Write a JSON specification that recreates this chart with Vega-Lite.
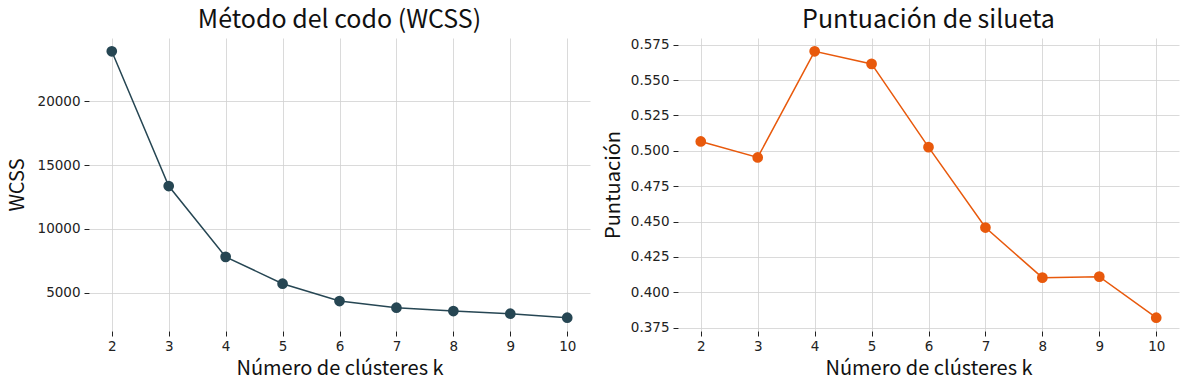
{
  "$schema": "https://vega.github.io/schema/vega-lite/v6.json",
  "padding": {"left": 7, "top": 7, "right": 5, "bottom": 5},
  "spacing": 13,
  "background": "white",
  "config": {
    "view": {"stroke": null},
    "font": "Noto Sans CJK JP",
    "title": {"fontSize": 25, "fontWeight": "normal", "color": "#111", "anchor": "middle", "offset": 5},
    "axis": {
      "domain": false,
      "grid": true,
      "gridColor": "#d0d0d0",
      "gridWidth": 0.8,
      "ticks": true,
      "tickColor": "#222",
      "tickSize": 5,
      "tickWidth": 1,
      "labelFont": "DejaVu Sans",
      "labelFontSize": 13.5,
      "labelColor": "#222",
      "labelPadding": 4,
      "titleFontSize": 20,
      "titleFontWeight": "normal",
      "titleColor": "#111"
    }
  },
  "datasets": {
    "wcss": [
      {"k": 2, "wcss": 23912},
      {"k": 3, "wcss": 13357},
      {"k": 4, "wcss": 7809},
      {"k": 5, "wcss": 5704},
      {"k": 6, "wcss": 4348},
      {"k": 7, "wcss": 3826},
      {"k": 8, "wcss": 3565},
      {"k": 9, "wcss": 3357},
      {"k": 10, "wcss": 3044}
    ],
    "sil": [
      {"k": 2, "score": 0.5066},
      {"k": 3, "score": 0.4953},
      {"k": 4, "score": 0.5703},
      {"k": 5, "score": 0.5614},
      {"k": 6, "score": 0.5026},
      {"k": 7, "score": 0.4458},
      {"k": 8, "score": 0.4104},
      {"k": 9, "score": 0.4111},
      {"k": 10, "score": 0.3821}
    ]
  },
  "hconcat": [
    {
      "title": "Método del codo (WCSS)",
      "width": 501,
      "height": 293,
      "data": {"name": "wcss"},
      "encoding": {
        "x": {"field": "k", "type": "quantitative", "title": "Número de clústeres k",
              "scale": {"domain": [1.6, 10.4], "nice": false, "zero": false},
              "axis": {"values": [2,3,4,5,6,7,8,9,10], "titlePadding": 6, "labelPadding": 3}},
        "y": {"field": "wcss", "type": "quantitative", "title": "WCSS",
              "scale": {"domain": [2000.6, 24955.4], "nice": false, "zero": false},
              "axis": {"values": [5000, 10000, 15000, 20000], "format": "d", "titlePadding": 10}}
      },
      "layer": [
        {"mark": {"type": "line", "color": "#264653", "strokeWidth": 1.5}},
        {"mark": {"type": "point", "filled": true, "color": "#264653", "size": 115, "opacity": 1}}
      ]
    },
    {
      "title": "Puntuación de silueta",
      "width": 501,
      "height": 293,
      "data": {"name": "sil"},
      "encoding": {
        "x": {"field": "k", "type": "quantitative", "title": "Número de clústeres k",
              "scale": {"domain": [1.6, 10.4], "nice": false, "zero": false},
              "axis": {"values": [2,3,4,5,6,7,8,9,10], "titlePadding": 6, "labelPadding": 3}},
        "y": {"field": "score", "type": "quantitative", "title": "Puntuación",
              "scale": {"domain": [0.37269, 0.57971], "nice": false, "zero": false},
              "axis": {"values": [0.375, 0.4, 0.425, 0.45, 0.475, 0.5, 0.525, 0.55, 0.575], "format": ".3f", "titlePadding": 7}}
      },
      "layer": [
        {"mark": {"type": "line", "color": "#e8590c", "strokeWidth": 1.5}},
        {"mark": {"type": "point", "filled": true, "color": "#e8590c", "size": 115, "opacity": 1}}
      ]
    }
  ]
}
